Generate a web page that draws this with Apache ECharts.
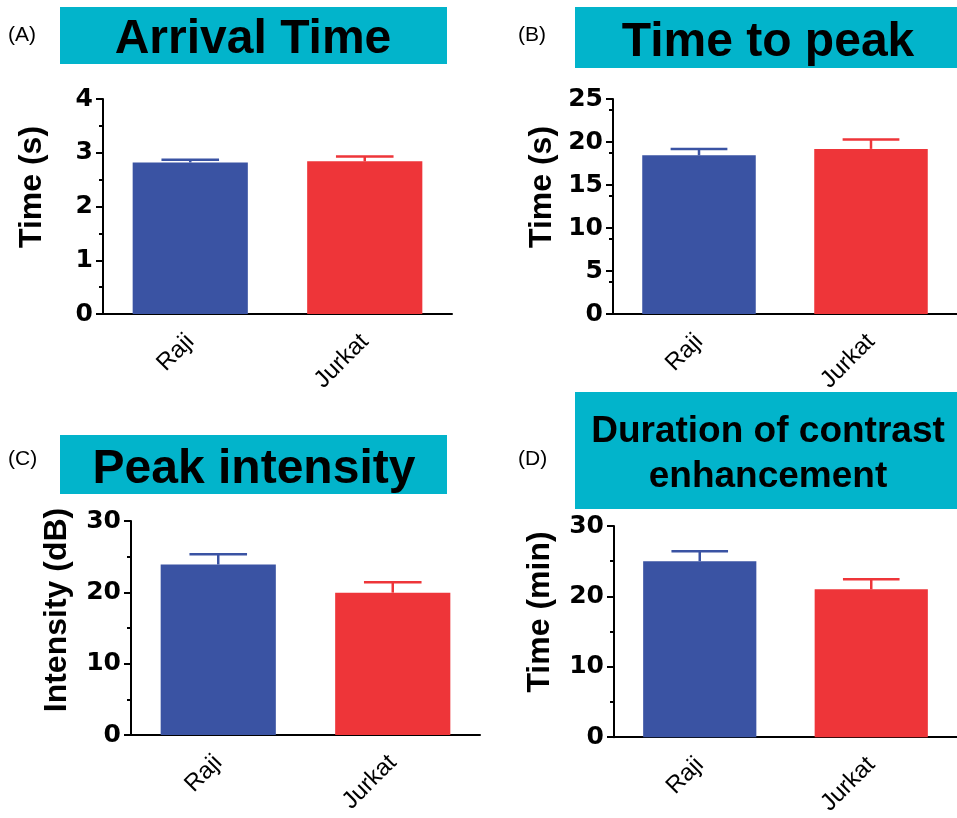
<!DOCTYPE html>
<html><head><meta charset="utf-8">
<script src="https://cdn.jsdelivr.net/npm/echarts@6/dist/echarts.min.js"></script>
<style>html,body{margin:0;padding:0;background:#fff}#c{width:957px;height:818px}</style>
</head><body><div id="c"></div>
<script>
// ---- data ----
const categories = ['Raji', 'Jurkat'];
const arrivalMean = [2.82, 2.84];
const arrivalErr = [0.05, 0.09];
const peakTimeMean = [18.45, 19.2];
const peakTimeErr = [0.75, 1.1];
const intensityMean = [23.9, 19.95];
const intensityErr = [1.45, 1.45];
const durationMean = [25.0, 21.0];
const durationErr = [1.4, 1.45];

const panelTitles = ['Arrival Time', 'Time to peak', 'Peak intensity', 'Duration of contrast\nenhancement'];
const panelLabels = ['(A)', '(B)', '(C)', '(D)'];
const yTitles = ['Time (s)', 'Time (s)', 'Intensity (dB)', 'Time (min)'];
const yMax = [4, 25, 30, 30];
const yInterval = [1, 5, 10, 10];
const minorTickValues = [[0.5, 1.5, 2.5, 3.5], [3.75, 8.75, 13.75, 18.75, 23.75], [5, 15, 25], [5, 15, 25]];

// ---- styling / layout ----
const barColors = ['#3A53A3', '#EE3539'];
const boxColor = '#02B4CB';
const means = [arrivalMean, peakTimeMean, intensityMean, durationMean];
const errs = [arrivalErr, peakTimeErr, intensityErr, durationErr];
const grids = [
  {left: 103, top: 99, width: 349, height: 215},
  {left: 613, top: 99, width: 349, height: 215},
  {left: 131, top: 521, width: 349, height: 214},
  {left: 614, top: 526, width: 349, height: 215}
];
const boxes = [
  {x: 60, y: 7, w: 387, h: 57, tx: 253, ty: 40, fs: 48, lh: 48},
  {x: 575, y: 7, w: 382, h: 61, tx: 768, ty: 43, fs: 48, lh: 48},
  {x: 60, y: 435, w: 387, h: 59, tx: 254, ty: 470, fs: 48, lh: 48},
  {x: 575, y: 392, w: 382, h: 117, tx: 768, ty: 454, fs: 37, lh: 45}
];
const labelPos = [[8, 35], [518, 35], [8, 459], [518, 459]];
const yTitlePos = [[32, 187], [542, 187], [57, 610], [540, 612]];

const xAxes = [], yAxes = [], series = [], graphics = [];
for (let i = 0; i < 4; i++) {
  xAxes.push({
    type: 'category', gridIndex: i, data: categories,
    axisLine: {lineStyle: {color: '#000', width: 2}},
    axisTick: {alignWithLabel: true, length: 7, lineStyle: {color: '#000', width: 2}},
    axisLabel: {rotate: 45, margin: 24, color: '#000', fontSize: 24, fontFamily: 'Liberation Sans'}
  });
  yAxes.push({
    type: 'value', gridIndex: i, min: 0, max: yMax[i], interval: yInterval[i],
    splitLine: {show: false},
    axisLine: {show: true, lineStyle: {color: '#000', width: 2}},
    axisTick: {show: true, length: 7, lineStyle: {color: '#000', width: 2}},
    axisLabel: {margin: 10, color: '#000', fontSize: 25, fontWeight: 'bold', fontFamily: 'DejaVu Sans'}
  });
  yAxes.push({
    type: 'value', gridIndex: i, min: 0, max: yMax[i], interval: yInterval[i], position: 'left',
    splitLine: {show: false},
    axisLine: {show: false},
    axisLabel: {show: false},
    axisTick: {show: true, length: 4, customValues: minorTickValues[i], lineStyle: {color: '#000', width: 2}}
  });
  series.push({
    type: 'bar', xAxisIndex: i, yAxisIndex: i * 2, barWidth: '66%',
    data: means[i].map((v, k) => ({value: v, itemStyle: {color: barColors[k]}})),
    silent: true
  });
  series.push({
    type: 'custom', xAxisIndex: i, yAxisIndex: i * 2, z: 3, silent: true,
    data: means[i].map((v, k) => [k, v, errs[i][k]]),
    encode: {x: 0, y: 1},
    renderItem: function (params, api) {
      const k = api.value(0), m = api.value(1), e = api.value(2);
      const p0 = api.coord([k, m]);
      const p1 = api.coord([k, m + e]);
      const hw = api.size([1, 0])[0] * 0.66 / 4;
      const col = barColors[params.dataIndex];
      return {type: 'group', children: [
        {type: 'line', shape: {x1: p0[0], y1: p0[1], x2: p1[0], y2: p1[1]}, style: {stroke: col, lineWidth: 2.5}},
        {type: 'line', shape: {x1: p1[0] - hw, y1: p1[1], x2: p1[0] + hw, y2: p1[1]}, style: {stroke: col, lineWidth: 2.5}}
      ]};
    }
  });
  const b = boxes[i];
  graphics.push({type: 'rect', z: 100, shape: {x: b.x, y: b.y, width: b.w, height: b.h}, style: {fill: boxColor}});
  graphics.push({type: 'text', z: 101, x: b.tx, y: b.ty,
    style: {text: panelTitles[i], fill: '#000', font: 'bold ' + b.fs + 'px "Liberation Sans"', lineHeight: b.lh, align: 'center', verticalAlign: 'middle'}});
  graphics.push({type: 'text', z: 101, x: labelPos[i][0], y: labelPos[i][1],
    style: {text: panelLabels[i], fill: '#000', font: '21px "Liberation Sans"', align: 'left', verticalAlign: 'middle'}});
  graphics.push({type: 'text', z: 101, x: yTitlePos[i][0], y: yTitlePos[i][1], rotation: Math.PI / 2,
    style: {text: yTitles[i], fill: '#000', font: 'bold 32px "Liberation Sans"', align: 'center', verticalAlign: 'middle'}});
}

const chart = echarts.init(document.getElementById('c'), null, {renderer: 'canvas'});
chart.setOption({
  animation: false,
  backgroundColor: '#fff',
  grid: grids,
  xAxis: xAxes,
  yAxis: yAxes,
  series: series,
  graphic: graphics
});
</script>
</body></html>
